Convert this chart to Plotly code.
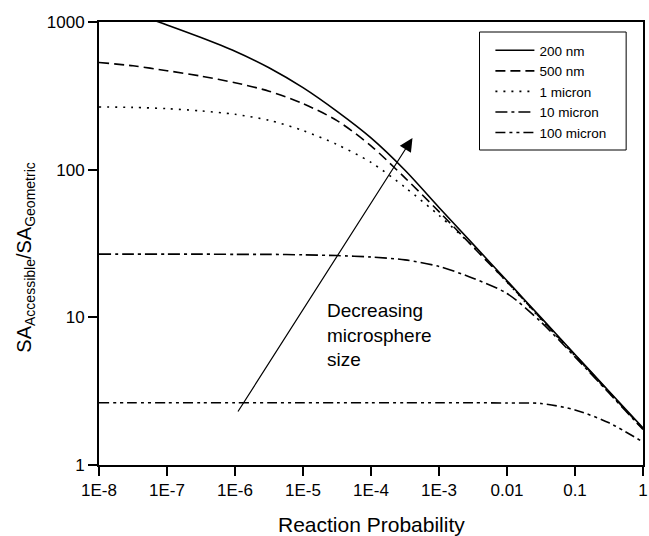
import plotly.graph_objects as go

# Reaction probability (x)
gamma = [1e-8, 3.162e-8, 1e-7, 3.162e-7, 1e-6, 3.162e-6, 1e-5, 3.162e-5,
         1e-4, 3.162e-4, 1e-3, 3.162e-3, 1e-2, 3.162e-2, 0.1, 0.3162, 1.0]

# SA_accessible / SA_geometric for each microsphere size
s_200nm = [1350, 1150, 955, 785, 634, 490, 359, 248, 164, 99, 55.5, 31.3, 17.7, 9.95, 5.6, 3.16, 1.78]
s_500nm = [532, 505, 468, 430, 388, 340, 280, 215, 145, 88, 52, 30, 17.4, 9.8, 5.55, 3.12, 1.76]
s_1um = [266, 264, 259, 250, 237, 216, 184, 148, 112, 76, 49, 30.2, 17.3, 9.7, 5.5, 3.1, 1.75]
s_10um = [26.8, 26.8, 26.8, 26.8, 26.7, 26.7, 26.5, 26.2, 25.6, 24.5, 22.1, 18.4, 14.5, 9.3, 5.4, 3.07, 1.74]
s_100um = [2.64, 2.64, 2.64, 2.64, 2.64, 2.64, 2.64, 2.64, 2.64, 2.64, 2.64, 2.64, 2.63, 2.61, 2.36, 1.93, 1.43]

series_names = ["200 nm", "500 nm", "1 micron", "10 micron", "100 micron"]
series_vals = [s_200nm, s_500nm, s_1um, s_10um, s_100um]
dashes = ["solid", "10px,5px", "2px,6px", "12px,4px,3px,4px", "10px,4px,3px,4px,3px,4px"]

xtick_vals = [1e-8, 1e-7, 1e-6, 1e-5, 1e-4, 1e-3, 1e-2, 0.1, 1]
xtick_text = ["1E-8", "1E-7", "1E-6", "1E-5", "1E-4", "1E-3", "0.01", "0.1", "1"]
ytick_vals = [1, 10, 100, 1000]
ytick_text = ["1", "10", "100", "1000"]

FONT = "Arial, Liberation Sans, sans-serif"

fig = go.Figure()
for name, vals, dash in zip(series_names, series_vals, dashes):
    fig.add_trace(go.Scatter(
        x=gamma, y=vals, mode="lines", name=name,
        line=dict(color="black", width=1.6, dash=dash, shape="spline", smoothing=0.8),
    ))

axis_common = dict(
    showline=True, linecolor="black", linewidth=2, mirror=True,
    ticks="outside", ticklen=9, tickwidth=1.6, tickcolor="black",
    showgrid=False, zeroline=False, ticklabeloverflow="allow",
    tickfont=dict(family=FONT, size=17, color="black"),
)

fig.update_layout(
    width=649, height=536,
    margin=dict(l=99, r=1, t=22, b=71),
    paper_bgcolor="white", plot_bgcolor="white",
    font=dict(family=FONT, color="black"),
    xaxis=dict(type="log", range=[-8, 0], tickvals=xtick_vals, ticktext=xtick_text, **axis_common),
    yaxis=dict(type="log", range=[0, 3], tickvals=ytick_vals, ticktext=ytick_text, **axis_common),
    showlegend=True,
    legend=dict(
        x=(494 - 99) / 549, y=(465 - 35) / 443, xanchor="left", yanchor="top",
        bgcolor="rgba(0,0,0,0)", borderwidth=0,
        font=dict(family=FONT, size=13.5, color="black"),
        itemwidth=39, tracegroupgap=0,
    ),
    shapes=[dict(
        type="rect", xref="paper", yref="paper",
        x0=(483 - 99) / 549, x1=(631 - 99) / 549,
        y0=(465 - 150) / 443, y1=(465 - 32) / 443,
        line=dict(color="black", width=1), fillcolor="white", layer="below",
    )],
    annotations=[
        dict(
            x=-3.39, y=2.214, xref="x", yref="y",
            ax=-5.97, ay=0.352, axref="x", ayref="y",
            text="", showarrow=True, arrowhead=2, arrowsize=2.2, arrowwidth=1.2,
            arrowcolor="black", standoff=0, startstandoff=0,
        ),
        dict(
            x=-4.68, y=1.131, xref="x", yref="y", xanchor="left", yanchor="top",
            text="Decreasing<br>microsphere<br>size", showarrow=False, align="left",
            font=dict(family=FONT, size=19, color="black"),
        ),
        dict(
            x=0.5, y=(465 - 524) / 443, xref="paper", yref="paper",
            xanchor="center", yanchor="middle",
            text="Reaction Probability", showarrow=False,
            font=dict(family=FONT, size=21, color="black"),
        ),
        dict(
            x=(24 - 99) / 549, y=(465 - 258) / 443, xref="paper", yref="paper",
            xanchor="center", yanchor="middle", textangle=-90,
            text="SA<sub>Accessible</sub>/SA<sub>Geometric</sub>", showarrow=False,
            font=dict(family=FONT, size=20, color="black"),
        ),
    ],
)

fig.write_html("out.html")
